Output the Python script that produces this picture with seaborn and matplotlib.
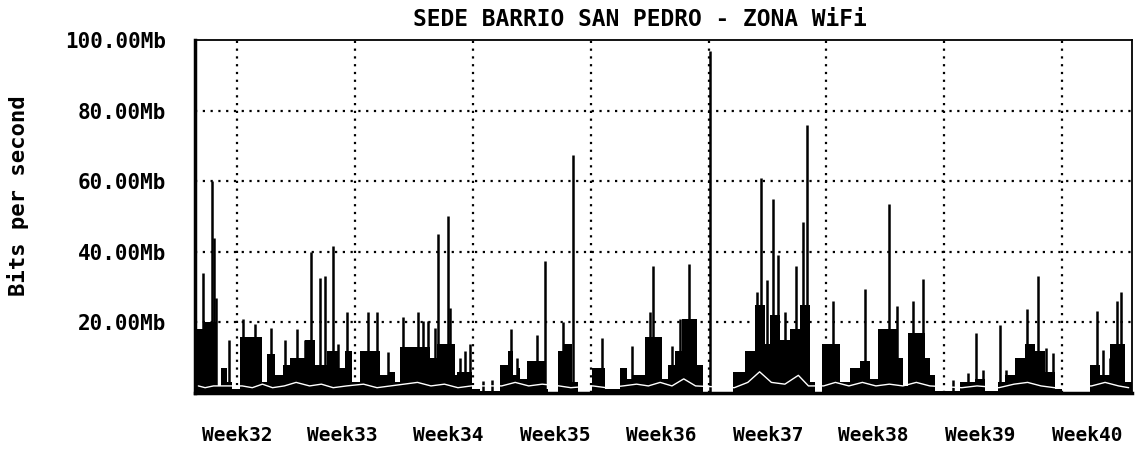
import seaborn as sns
import matplotlib.pyplot as plt

# chart text
title = 'SEDE BARRIO SAN PEDRO - ZONA WiFi'
y_title = 'Bits per second'
week_labels = ['Week32', 'Week33', 'Week34', 'Week35', 'Week36',
               'Week37', 'Week38', 'Week39', 'Week40']
week_pos = [2.49, 8.72, 15.0, 21.36, 27.64, 33.99, 40.22, 46.57, 52.92]
week_lines = [2.47, 9.47, 16.47, 23.47, 30.47, 37.47, 44.47, 51.47]
y_ticks = [20, 40, 60, 80, 100]
y_labels = ['20.00Mb', '40.00Mb', '60.00Mb', '80.00Mb', '100.00Mb']
x_max = 55.59

# incoming traffic, dense part (days since start -> Mb)
body_edges = [0.00, 0.12, 0.47, 1.31, 1.54, 1.90, 2.19, 2.67, 3.97, 4.27,
              4.75, 5.22, 5.64, 6.53, 7.12, 7.83, 8.48, 8.90, 9.31, 9.79,
              10.97, 11.45, 11.87, 12.16, 13.94, 14.36, 15.42, 15.54, 16.43, 16.91,
              18.09, 18.57, 18.86, 19.10, 19.28, 19.70, 20.76, 20.94, 21.53, 21.83,
              22.36, 22.72, 23.55, 24.32, 25.21, 25.63, 25.98, 26.70, 27.71, 28.06,
              28.48, 28.89, 29.78, 30.14, 31.92, 32.63, 33.22, 33.82, 34.11, 34.70,
              35.30, 35.89, 36.48, 36.78, 37.20, 38.26, 38.86, 39.45, 40.04, 40.52,
              41.65, 42.00, 42.30, 43.31, 43.60, 43.90, 45.38, 46.27, 46.87, 47.64,
              48.05, 48.64, 49.24, 49.83, 50.42, 51.02, 51.43, 53.09, 53.69, 54.28,
              55.17, 55.59]
body_mb = [0, 18, 20, 2, 7, 3, 1, 16, 3, 11,
           5, 8, 10, 15, 8, 12, 7, 12, 3, 12,
           5, 6, 3, 13, 10, 14, 5, 6, 1, 0.5,
           8, 12, 5, 7, 4, 9, 1, 0, 12, 14,
           3, 0, 7, 1, 7, 4, 5, 16, 4, 8,
           12, 21, 8, 0, 6, 12, 25, 14, 22, 15,
           18, 25, 3, 0, 14, 3, 7, 9, 4, 18,
           10, 2, 17, 10, 5, 0.5, 3, 4, 0.5, 3,
           5, 10, 14, 12, 6, 1, 0, 8, 5, 14,
           3]

# incoming traffic, short peaks
spike_day = [0.49, 0.99, 1.13, 1.25, 2.03, 2.83, 3.56, 4.49, 5.34, 6.07,
             6.53, 6.86, 7.42, 7.71, 8.20, 8.50, 9.00, 10.28, 10.78, 11.47,
             12.36, 13.25, 13.54, 13.84, 14.24, 14.43, 15.03, 15.13, 15.72, 16.02,
             16.31, 17.10, 17.60, 18.73, 19.12, 20.27, 20.76, 21.81, 22.41, 24.13,
             25.91, 26.99, 27.19, 28.28, 28.77, 29.31, 30.55, 33.32, 33.58, 33.92,
             34.31, 34.60, 35.00, 35.69, 36.05, 36.29, 36.39, 37.83, 39.75, 41.19,
             41.63, 42.61, 43.20, 44.98, 45.87, 46.37, 46.76, 47.75, 48.15, 49.34,
             50.03, 50.52, 50.92, 53.53, 53.88, 54.28, 54.68, 54.97]
spike_mb = [34, 60, 44, 27, 15, 21, 19.5, 18.5, 15, 18,
            15, 40, 32.5, 33, 41.5, 14, 23, 23, 23, 11.5,
            21.5, 23, 20.5, 20.5, 18.5, 45, 50, 24, 10, 12,
            14, 3.3, 3.8, 18, 10, 16.5, 37.5, 20, 67.5, 15.7,
            13.3, 23, 36, 13.3, 21, 36.5, 97, 28.5, 61, 32,
            55, 39, 23, 36, 48.5, 76, 15, 26, 29.5, 53.5,
            24.7, 26, 32.3, 3.7, 5.6, 17, 6.6, 19.4, 6.6, 23.7,
            33.2, 12.8, 11.3, 23.2, 12.3, 9.9, 26, 28.5]

# outgoing traffic (white trace near the floor)
out_day = [0.2, 0.6, 1.1, 2.8, 3.4, 4.0, 4.6, 5.3, 6.0, 6.8,
           7.5, 8.2, 9.0, 10.0, 10.8, 11.6, 12.4, 13.2, 14.0, 14.8,
           15.6, 16.4, 18.2, 19.0, 19.8, 20.6, 21.6, 22.3, 23.6, 24.4,
           25.4, 26.2, 26.9, 27.6, 28.3, 29.0, 29.7, 32.0, 32.8, 33.5,
           34.2, 35.0, 35.8, 36.4, 37.3, 38.0, 38.8, 39.6, 40.4, 41.2,
           42.0, 42.8, 43.6, 45.5, 46.4, 47.7, 48.6, 49.4, 50.2, 51.0,
           53.2, 54.0, 54.8, 55.4]
out_mb = [2, 1.5, 2, 2, 1.5, 2.5, 1.5, 2, 3, 2,
          2.5, 1.5, 2, 2.5, 1.5, 2, 2.5, 3, 2, 2.5,
          1.5, 2, 2, 3, 2, 2.5, 2, 1.5, 2, 1.5,
          2, 2.5, 2, 3, 2, 4, 2, 1.5, 3, 6,
          3, 2.5, 5, 2, 2, 3, 2, 3, 2, 2.5,
          2, 3, 2, 1.5, 2, 1.5, 2.5, 3, 2, 1.5,
          2, 3, 2, 1.5]

sns.set_style('white')
plt.rcParams['font.family'] = ['DejaVu Sans Mono', 'DejaVu Sans']
plt.rcParams['text.color'] = 'black'
plt.rcParams['xtick.color'] = 'black'
plt.rcParams['ytick.color'] = 'black'

fig = plt.figure(figsize=(11.37, 4.55), dpi=100)
ax = fig.add_axes([0.1715, 0.1363, 0.824, 0.7758])

for y in y_ticks[:-1]:
    ax.axhline(y, color='black', lw=1.6, ls=(0, (1, 2.5)), zorder=1)
for x in week_lines:
    ax.axvline(x, color='black', lw=1.6, ls=(0, (1, 2.5)), zorder=1)

mids = [(a + b) / 2 for a, b in zip(body_edges[:-1], body_edges[1:])]
sns.histplot(x=mids, weights=body_mb, bins=body_edges, element='step',
             fill=True, color='black', alpha=1, linewidth=0, ax=ax, zorder=2)
ax.vlines(spike_day, 0, spike_mb, color='black', lw=1.8, zorder=3)
sns.lineplot(x=out_day, y=out_mb, color='white', lw=1, ax=ax, zorder=4)

ax.set_xlim(0, x_max)
ax.set_ylim(0, 100)
ax.set_xticks(week_pos)
ax.set_xticklabels(week_labels, fontsize=14, fontweight='bold')
ax.set_yticks(y_ticks)
ax.set_yticklabels(y_labels, fontsize=15, fontweight='bold')
ax.tick_params(axis='x', length=0, pad=24)
ax.tick_params(axis='y', length=0, pad=21)
ax.set_xlabel('')
ax.set_ylabel('')

for side in ['left', 'bottom']:
    ax.spines[side].set_linewidth(2.5)
for side in ['top', 'right']:
    ax.spines[side].set_linewidth(1.3)
for side in ax.spines:
    ax.spines[side].set_color('black')

fig.text(0.563, 0.958, title, ha='center', va='center', fontsize=16.5,
         fontweight='bold', color='black')
fig.text(0.016, 0.571, y_title, ha='center', va='center', rotation=90,
         fontsize=16, fontweight='bold', color='black')

plt.savefig('out.png', dpi=100)
